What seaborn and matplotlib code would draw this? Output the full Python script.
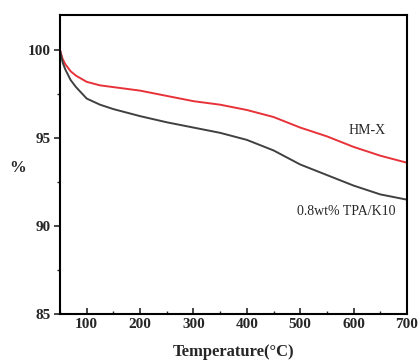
import matplotlib
matplotlib.use("Agg")
import matplotlib.pyplot as plt
import seaborn as sns
import pandas as pd
from matplotlib.ticker import MultipleLocator

temps = [50, 55, 60, 70, 80, 100, 125, 150, 200, 250, 300, 350, 400, 450, 500, 550, 600, 650, 700]
hmx = [100.0, 99.5, 99.2, 98.8, 98.55, 98.2, 98.0, 97.9, 97.7, 97.4, 97.1, 96.9, 96.6, 96.2, 95.6, 95.1, 94.5, 94.0, 93.6]
tpa = [100.0, 99.3, 98.9, 98.3, 97.9, 97.25, 96.9, 96.65, 96.25, 95.9, 95.6, 95.3, 94.9, 94.3, 93.5, 92.9, 92.3, 91.8, 91.5]

sns.set_theme(style="ticks")
plt.rcParams['font.family'] = ['Liberation Serif', 'DejaVu Serif']

df = pd.DataFrame({"T": temps + temps,
                   "v": hmx + tpa,
                   "s": ["HM-X"] * len(temps) + ["0.8wt% TPA/K10"] * len(temps)})

fig = plt.figure(figsize=(4.18, 3.6), dpi=100)
ax = fig.add_axes([60/418, 1 - 314/360, (407-60)/418, (314-15)/360])
sns.lineplot(data=df, x="T", y="v", hue="s",
             palette={"HM-X": "#e8323a", "0.8wt% TPA/K10": "#404040"},
             linewidth=1.4, legend=False, ax=ax)

ax.set_xlim(50, 700)
ax.set_ylim(85, 102)
ax.set_xticks([100, 200, 300, 400, 500, 600, 700])
ax.xaxis.set_minor_locator(MultipleLocator(50))
ax.yaxis.set_major_locator(MultipleLocator(5))
ax.yaxis.set_minor_locator(MultipleLocator(2.5))
ax.tick_params(axis='x', which='both', direction='in', top=False)
ax.tick_params(axis='x', which='major', length=4, width=1.2)
ax.tick_params(axis='x', which='minor', length=2.5, width=1)
ax.tick_params(axis='y', which='both', direction='out', right=False)
ax.tick_params(axis='y', which='major', length=4, width=1.2)
ax.tick_params(axis='y', which='minor', length=2, width=1)
ax.tick_params(labelsize=11, pad=3)
for lab in ax.get_xticklabels() + ax.get_yticklabels():
    lab.set_fontweight('bold')
for sp in ax.spines.values():
    sp.set_linewidth(1.5)
    sp.set_color('black')

ax.set_xlabel("Temperature(°C)", fontsize=12, fontweight='bold', labelpad=9)
ax.set_ylabel("%", fontsize=12, fontweight='bold', rotation=0, va='center', ha='center')
ax.yaxis.set_label_coords(-0.122, 0.488)

ax.text(625, 95.45, "HM-X", fontsize=10, ha='center', va='center')
ax.text(586, 90.8, "0.8wt% TPA/K10", fontsize=10, ha='center', va='center')

fig.savefig("out.png", dpi=100)
